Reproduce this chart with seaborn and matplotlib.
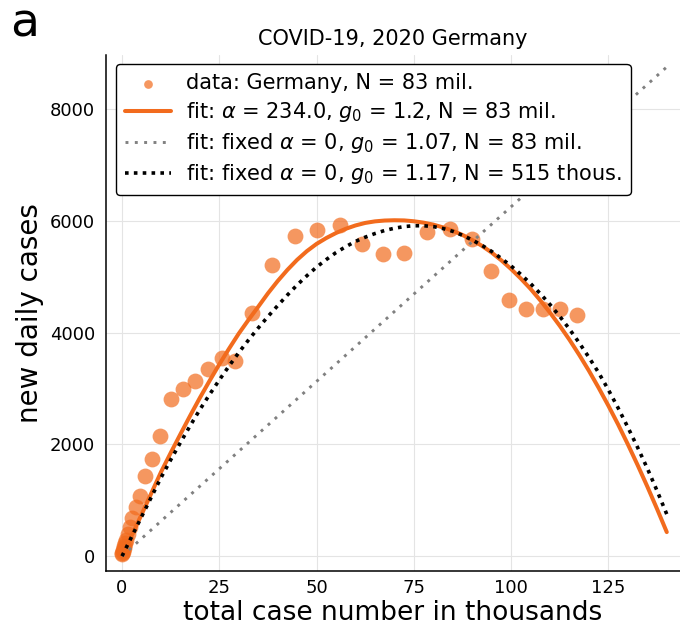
import numpy as np
import pandas as pd
import matplotlib
matplotlib.use("Agg")
import matplotlib.pyplot as plt
import seaborn as sns

# Reported cases, Germany 2020: cumulative total (thousands) vs. new daily cases
total_k = [0.03, 0.09, 0.17, 0.28, 0.42, 0.6, 0.84, 1.13, 1.53, 2.06, 2.57, 3.52,
           4.55, 5.99, 7.63, 9.84, 12.67, 15.67, 18.83, 22.02, 25.77, 29.11, 33.45,
           38.62, 44.53, 50.18, 56.01, 61.74, 67.06, 72.53, 78.29, 84.2, 89.85,
           94.89, 99.51, 103.88, 108.25, 112.62, 116.99]
daily = [40, 60, 80, 110, 140, 185, 240, 290, 400, 526, 682, 873,
         1075, 1438, 1732, 2147, 2810, 2989, 3127, 3347, 3544, 3490, 4349,
         5202, 5732, 5828, 5918, 5583, 5404, 5422, 5803, 5846, 5667,
         5106, 4576, 4426, 4415, 4415, 4313]

# Model curves evaluated on a grid of total case numbers (thousands)
fit_x = [0, 2.5, 5, 7.5, 10, 12.5, 15, 17.5, 20, 22.5, 25, 27.5, 30, 32.5, 35,
         37.5, 40, 42.5, 45, 47.5, 50, 52.5, 55, 57.5, 60, 62.5, 65, 67.5, 70,
         72.5, 75, 77.5, 80, 82.5, 85, 87.5, 90, 92.5, 95, 97.5, 100, 102.5,
         105, 107.5, 110, 112.5, 115, 117.5, 120, 122.5, 125, 127.5, 130, 132.5,
         135, 137.5, 140]
fit_alpha = [0, 370, 740, 1120, 1500, 1845, 2180, 2510, 2830, 3135, 3430, 3710,
             3980, 4225, 4460, 4700, 4920, 5120, 5300, 5455, 5585, 5690, 5780,
             5855, 5915, 5960, 5988, 6003, 6008, 6005, 5990, 5965, 5930, 5880,
             5820, 5745, 5655, 5550, 5430, 5290, 5135, 4965, 4780, 4575, 4355,
             4120, 3870, 3600, 3315, 3010, 2690, 2355, 2000, 1630, 1245, 845, 430]
fit_small_n = [0, 350, 700, 1050, 1400, 1720, 2030, 2330, 2620, 2890, 3150, 3400,
               3640, 3865, 4080, 4285, 4480, 4670, 4850, 5015, 5170, 5305, 5430,
               5535, 5630, 5705, 5770, 5825, 5865, 5895, 5910, 5910, 5895, 5860,
               5810, 5740, 5655, 5560, 5450, 5325, 5190, 5040, 4875, 4695, 4500,
               4290, 4060, 3815, 3555, 3280, 2975, 2650, 2305, 1945, 1570, 1170, 750]
lin_x = [0, 140]
fit_fixed = [0, 8750]

labels = [
    "data: Germany, N = 83 mil.",
    r"fit: $\alpha$ = 234.0, $g_0$ = 1.2, N = 83 mil.",
    r"fit: fixed $\alpha$ = 0, $g_0$ = 1.07, N = 83 mil.",
    r"fit: fixed $\alpha$ = 0, $g_0$ = 1.17, N = 515 thous.",
]

orange = "#F26B1D"

sns.set_style("white")
plt.rcParams["font.family"] = ["DejaVu Sans"]
plt.rcParams["mathtext.fontset"] = "dejavusans"
for key in ("text.color", "axes.labelcolor", "xtick.color", "ytick.color"):
    plt.rcParams[key] = "black"

fig = plt.figure(figsize=(6.8, 6.31), dpi=100)
ax = fig.add_axes([106 / 680, 60 / 631, 574 / 680, 516 / 631])

df_data = pd.DataFrame({"x": total_k, "y": daily})
df_a = pd.DataFrame({"x": fit_x, "y": fit_alpha})
df_f = pd.DataFrame({"x": lin_x, "y": fit_fixed})
df_s = pd.DataFrame({"x": fit_x, "y": fit_small_n})

sns.scatterplot(data=df_data, x="x", y="y", ax=ax, color=orange, alpha=0.7,
                s=130, linewidth=0, label=labels[0], zorder=3)
sns.lineplot(data=df_a, x="x", y="y", ax=ax, color=orange, lw=2.9,
             sort=False, estimator=None, label=labels[1], zorder=4)
sns.lineplot(data=df_f, x="x", y="y", ax=ax, color="#808080", lw=2.1,
             sort=False, estimator=None, label=labels[2], zorder=4,
             linestyle=(0, (1, 2.2)))
sns.lineplot(data=df_s, x="x", y="y", ax=ax, color="black", lw=2.6,
             sort=False, estimator=None, label=labels[3], zorder=5,
             linestyle=(0, (1, 1.45)))

ax.set_xlim(-4.11, 143.4)
ax.set_ylim(-266, 8964)
ax.set_xticks([0, 25, 50, 75, 100, 125])
ax.set_yticks([0, 2000, 4000, 6000, 8000])
ax.grid(True, color="#e4e4e4", lw=0.8)
ax.set_axisbelow(True)
for side in ("top", "right"):
    ax.spines[side].set_visible(False)
for side in ("left", "bottom"):
    ax.spines[side].set_color("black")
    ax.spines[side].set_linewidth(1.1)
ax.tick_params(axis="x", direction="in", length=5, width=1, labelsize=13, pad=6)
ax.tick_params(axis="y", direction="inout", length=10, width=1, labelsize=13, pad=3)

ax.set_xlabel("total case number in thousands", fontsize=19, labelpad=2)
ax.set_ylabel("new daily cases", fontsize=20, labelpad=4)
ax.set_title("COVID-19, 2020 Germany", fontsize=15, pad=7)
fig.text(0.015, 0.962, "a", fontsize=34, va="center", ha="left")

leg = ax.legend(loc="upper left", bbox_to_anchor=(10 / 574, 1 - 9 / 516),
                borderaxespad=0, fontsize=15, frameon=True, framealpha=1,
                edgecolor="black", handlelength=2.2, handletextpad=0.7,
                labelspacing=0.33, borderpad=0.45, markerscale=0.55)
leg.get_frame().set_linewidth(1.0)

fig.savefig("out.png", dpi=100)
